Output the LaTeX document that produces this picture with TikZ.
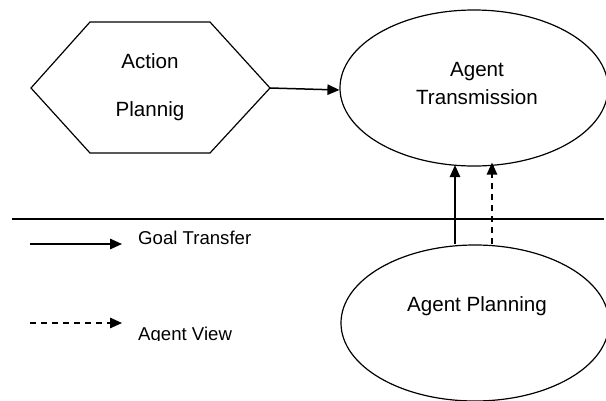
\documentclass[tikz,border=0pt]{standalone}
\usepackage{fontspec}
\setmainfont{Liberation Sans}
\usetikzlibrary{shapes.geometric,arrows.meta,calc}
\begin{document}
\begin{tikzpicture}[x=1pt,y=1pt,
  shapeline/.style={draw,line width=1.2pt},
  ell/.style={shapeline,ellipse,inner sep=0pt,minimum width=268pt,minimum height=156pt},
  ltxt/.style={font=\fontsize{20.6}{28}\selectfont,align=center,inner sep=0pt},
  conn/.style={line width=1.5pt,-{Triangle[length=12pt,width=10.5pt]}},
  dashconn/.style={conn,dash pattern=on 6pt off 5pt},
  lbl/.style={font=\fontsize{20.6}{48}\selectfont,align=center,inner sep=0pt},
  legtxt/.style={font=\fontsize{18.6}{22}\selectfont,anchor=base west,inner sep=0pt}]
\useasboundingbox (0,0) rectangle (606,-400);
% hexagon
\coordinate (hexL) at (31,-88);
\coordinate (hexR) at (270,-88);
\draw[shapeline,line join=miter] (hexL) -- (90,-22) -- (210,-22) -- (hexR) -- (210,-153) -- (90,-153) -- cycle;
\node[lbl] (ap) at (150,-87) {Action\\Plannig};
% ellipses
\node[ell] (at) at (474,-88) {};
\node[ltxt] (attxt) at (477,-84) {Agent\\Transmission};
\node[ell] (pl) at (475,-323) {};
\node[ltxt] (pltxt) at (477,-306) {Agent Planning};
% separator line
\coordinate (sepL) at (12,-219);
\coordinate (sepR) at (604,-219);
\draw[line width=1.1pt] (sepL) -- (sepR);
% connectors
\coordinate (atW) at ($(at.west)+(0,-2)$);
\draw[conn] (hexR) -- (atW);
\coordinate (s1) at (455,0);
\coordinate (s2) at (492,0);
\draw[conn] (pl.north -| s1) -- ($(at.south -| s1)+(0,1.5)$);
\draw[dashconn] (pl.north -| s2) -- ($(at.south -| s2)+(0,4)$);
% legend
\coordinate (l1a) at (30,-244);
\coordinate (l1b) at (122,-244);
\coordinate (l2a) at (30,-323);
\coordinate (l2b) at (122,-323);
\draw[conn] (l1a) -- (l1b);
\draw[dashconn] (l2a) -- (l2b);
\node[legtxt] (gt) at (138,-244) {Goal Transfer};
\begin{scope}
\clip (130,-310) rectangle (300,-340);
\node[legtxt] (av) at (138,-340) {Agent View};
\end{scope}
\end{tikzpicture}
\end{document}
